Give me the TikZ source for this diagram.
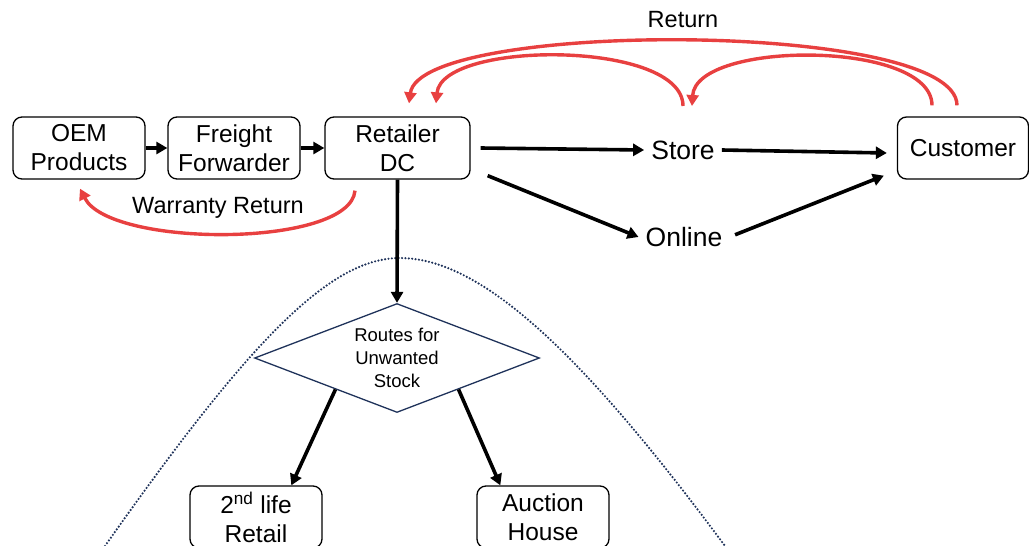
\documentclass[tikz,border=0pt]{standalone}
\usepackage{fontspec}
\setmainfont{Liberation Sans}
\usetikzlibrary{arrows.meta,shapes.geometric,calc}
\definecolor{retred}{RGB}{232,64,64}
\definecolor{navy}{RGB}{31,50,90}
\begin{document}
\begin{tikzpicture}[x=1pt,y=-1pt,
  box/.style={draw,rounded corners=9pt,line width=1.3pt,minimum width=132pt,minimum height=62pt,
    align=center,inner sep=0pt,font=\fontsize{24.5}{29}\selectfont},
  plain/.style={inner sep=7pt,font=\fontsize{26.5}{31}\selectfont},
  flow/.style={line width=3.6pt,-{Triangle[length=11pt,width=12pt]}},
  back/.style={retred,line width=3.4pt,-{Triangle[length=11pt,width=12pt]}},
  lbl/.style={font=\fontsize{23.5}{28}\selectfont}]
\useasboundingbox (0,0) rectangle (1029,546);

% supply chain boxes
\node[box] (oem) at (79,148) {OEM\\Products};
\node[box] (ff) at (234,148) {Freight\\Forwarder};
\node[box,minimum width=145pt] (ret) at (397.5,148) {Retailer\\DC};
\node[box,minimum width=131pt] (cust) at (963,148) {Customer};
\node[plain] (store) at (683,150) {Store};
\node[plain] (online) at (684,237) {Online};

% decision diamond and disposal routes
\node[diamond,draw=navy,line width=1.3pt,minimum width=285pt,minimum height=109pt,inner sep=0pt,
  aspect=2.6,align=center,font=\fontsize{18.5}{23}\selectfont] (dia) at (397,358)
  {Routes for\\Unwanted\\Stock};
\node[box] (life) at (256,517) {2\textsuperscript{nd} life\\Retail};
\node[box] (auc) at (543,517) {Auction\\House};

% bell curve around the disposal area
\draw[navy,line width=2.4pt,line cap=round,dash pattern=on 0pt off 3.4pt] (105,546) .. controls (250,340) and (330,258) .. (400,258)
  .. controls (480,258) and (580,350) .. (725,546);

% forward flows
\draw[flow] (oem) -- (ff);
\draw[flow] (ff) -- (ret);
\draw[flow] ([xshift=10pt]ret.east) -- (store.west);
\draw[flow] (store.east) -- ([shift={(-10,5)}]cust.west);
\draw[flow] ([shift={(17,-4)}]ret.south east) -- (online.west);
\draw[flow,shorten <=6pt] (online.east) -- ([shift={(-13,-4)}]cust.south west);
\draw[flow] (ret.south) -- (dia.north);
\draw[flow] ($(dia.west)!0.57!(dia.south)$) -- ($(life.north)!0.53!(life.north east)$);
\draw[flow] ($(dia.south)!0.43!(dia.east)$) -- ($(auc.north)!0.64!(auc.north west)$);

% return flows
\coordinate (cOut) at ([shift={(-6,-11)}]cust.north);
\coordinate (cIn) at ([shift={(-31,-11)}]cust.north);
\coordinate (rOut) at ([shift={(11.5,-13)}]ret.north);
\coordinate (rIn) at ([shift={(38.5,-13)}]ret.north);
\coordinate (sFrom) at ([shift={(0,-44)}]store.center);
\coordinate (sTo) at ([shift={(9,-44)}]store.center);
\draw[back] (cOut) .. controls (957,20) and (420,20) .. (rOut);
\draw[back] (sFrom) .. controls (683,40) and (442,40) .. (rIn);
\draw[back] (cIn) .. controls (932,40) and (696,40) .. (sTo);
\node[lbl] (retlbl) at (683,20) {Return};

\coordinate (wFrom) at ([shift={(-42.5,11)}]ret.south);
\coordinate (wTo) at ([shift={(1,9)}]oem.south);
\draw[back] (wFrom) .. controls (350,248) and (110,248) .. (wTo);
\node[lbl] (warlbl) at (218,208) {Warranty Return};
\end{tikzpicture}
\end{document}
